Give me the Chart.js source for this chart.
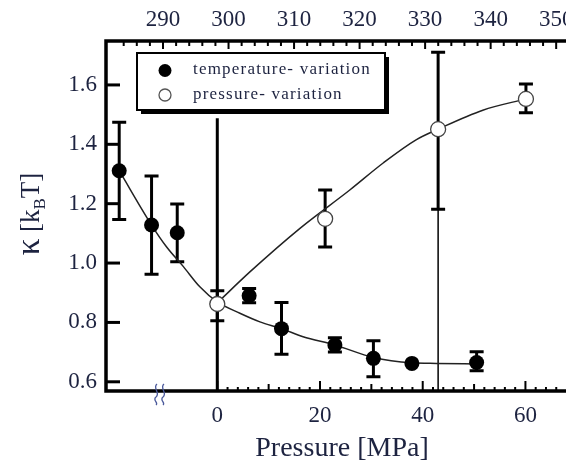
<!DOCTYPE html>
<html>
<head>
<meta charset="utf-8">
<script src="https://cdn.jsdelivr.net/npm/chart.js@4.4.1/dist/chart.umd.min.js"></script>
<style>
  html, body { margin: 0; padding: 0; background: #fff; }
  #wrap { width: 566px; height: 461px; }
</style>
</head>
<body>
<div id="wrap"><canvas id="kappa"></canvas></div>
<script>
// bending rigidity, temperature series (placed on the pressure scale)
const tempP     = [-19.1, -12.8, -7.8, 0, 6.2, 12.5, 22.9, 30.4, 37.9, 50.5];
const tempKappa = [1.311, 1.128, 1.102, 0.862, 0.890, 0.779, 0.724, 0.679, 0.662, 0.665];
const tempLo    = [1.147, 0.962, 1.004, 0.806, 0.866, 0.693, 0.700, 0.617, null, 0.637];
const tempHi    = [1.474, 1.293, 1.199, 0.907, 0.914, 0.867, 0.748, 0.738, null, 0.701];

// pressure series
const presP     = [0, 21.0, 43.0, 60.1];
const presKappa = [0.862, 1.149, 1.451, 1.553];
const presLo    = [0.50, 1.054, 1.181, 1.506];
const presHi    = [1.488, 1.246, 1.710, 1.603];
const presCaps  = [false, true, true, true];
const presTail  = [false, false, true, false];

// guide-to-the-eye curves
const tempFitP = [-19.1, -12.8, -9.9, -6.6, -3.4, 0, 4.4, 8.3, 12.5, 16.7, 22.9, 30.4, 37.9, 42.7, 50.5];
const tempFitK = [1.311, 1.128, 1.055, 0.988, 0.920, 0.869, 0.831, 0.802, 0.779, 0.752, 0.724, 0.682, 0.664, 0.662, 0.660];
const presFitP = [0, 6.4, 16.1, 25.8, 32.3, 38.7, 43.0, 51.7, 60.1];
const presFitK = [0.866, 0.971, 1.117, 1.246, 1.337, 1.415, 1.451, 1.515, 1.553];

// axes
const pressureTicks = [0, 20, 40, 60];
const tempTicks = [290, 300, 310, 320, 330, 340, 350];
const kappaTicks = [0.6, 0.8, 1.0, 1.2, 1.4, 1.6];

const serif = '"Liberation Serif", "Times New Roman", serif';
const ink = '#1d2340';

const pairs = (xs, ys) => xs.map((v, i) => ({ x: v, y: ys[i] }));

function bar(ctx, area, px, y1, y2, caps) {
  const top = Math.max(area.top, Math.min(y1, y2));
  const bot = Math.min(area.bottom, Math.max(y1, y2));
  ctx.beginPath();
  ctx.moveTo(px, top);
  ctx.lineTo(px, bot);
  ctx.stroke();
  if (caps) {
    ctx.beginPath();
    ctx.moveTo(px - 7, y1); ctx.lineTo(px + 7, y1);
    ctx.moveTo(px - 7, y2); ctx.lineTo(px + 7, y2);
    ctx.stroke();
  }
}

const errorBars = {
  id: 'errorBars',
  beforeDatasetsDraw(chart) {
    const { ctx, chartArea: a, scales: { x, y } } = chart;
    ctx.save();
    ctx.strokeStyle = '#000';
    ctx.lineWidth = 3;
    tempP.forEach((p, i) => {
      if (tempLo[i] == null) return;
      bar(ctx, a, x.getPixelForValue(p), y.getPixelForValue(tempHi[i]), y.getPixelForValue(tempLo[i]), true);
    });
    presP.forEach((p, i) => {
      const px = x.getPixelForValue(p);
      ctx.lineWidth = 3;
      bar(ctx, a, px, y.getPixelForValue(presHi[i]), y.getPixelForValue(presLo[i]), presCaps[i]);
      if (presTail[i]) {
        ctx.lineWidth = 1.5;
        ctx.beginPath();
        ctx.moveTo(px, y.getPixelForValue(presLo[i]));
        ctx.lineTo(px, a.bottom);
        ctx.stroke();
      }
    });
    ctx.restore();
  }
};

const frame = {
  id: 'frame',
  afterDraw(chart) {
    const { ctx, chartArea: a, scales: { x, x2, y } } = chart;
    ctx.save();
    ctx.strokeStyle = '#000';
    ctx.lineJoin = 'miter';

    // open box: top, left and bottom only
    ctx.lineWidth = 3.5;
    ctx.beginPath();
    ctx.moveTo(a.right + 2, a.top);
    ctx.lineTo(a.left, a.top);
    ctx.lineTo(a.left, a.bottom);
    ctx.lineTo(a.right + 2, a.bottom);
    ctx.stroke();

    // inward ticks
    ctx.lineWidth = 3;
    kappaTicks.forEach(v => {
      const py = y.getPixelForValue(v);
      ctx.beginPath(); ctx.moveTo(a.left, py); ctx.lineTo(a.left + 14, py); ctx.stroke();
    });
    ctx.lineWidth = 2;
    for (let p = 0; p <= x.max; p += 2) {
      const px = x.getPixelForValue(p);
      const len = p % 20 === 0 ? 10 : p % 10 === 0 ? 7 : 4;
      ctx.beginPath(); ctx.moveTo(px, a.bottom); ctx.lineTo(px, a.bottom - len); ctx.stroke();
    }
    for (let t = 284; t <= x2.max; t += 2) {
      const px = x2.getPixelForValue(t);
      const len = t % 10 === 0 ? 8 : 5;
      ctx.beginPath(); ctx.moveTo(px, a.top); ctx.lineTo(px, a.top + len); ctx.stroke();
    }

    // axis break below the temperature-only region
    ctx.strokeStyle = '#4b5a9c';
    ctx.lineWidth = 1.3;
    [156, 163].forEach(bx => {
      ctx.beginPath();
      ctx.moveTo(bx + 1, 384);
      ctx.bezierCurveTo(bx - 4, 388, bx + 5, 393, bx, 397);
      ctx.bezierCurveTo(bx - 4, 400, bx + 3, 403, bx, 405);
      ctx.stroke();
    });

    // axis titles
    ctx.fillStyle = ink;
    ctx.textBaseline = 'alphabetic';
    ctx.textAlign = 'center';
    ctx.font = '28px ' + serif;
    ctx.fillText('Pressure [MPa]', 342, 456);

    const parts = [
      { t: 'κ', f: '33px ' + serif, dy: 0 },
      { t: ' [k', f: '27px ' + serif, dy: 0 },
      { t: 'B', f: '17px ' + serif, dy: 6 },
      { t: 'T]', f: '27px ' + serif, dy: 0 }
    ];
    ctx.textAlign = 'left';
    let total = 0;
    parts.forEach(s => { ctx.font = s.f; s.w = ctx.measureText(s.t).width; total += s.w; });
    ctx.translate(39, 214);
    ctx.rotate(-Math.PI / 2);
    let cx = -total / 2;
    parts.forEach(s => { ctx.font = s.f; ctx.fillText(s.t, cx, s.dy); cx += s.w; });
    ctx.restore();

    // legend box with drop shadow
    ctx.save();
    const L = 137, T = 53, W = 248, H = 57;
    ctx.fillStyle = '#000';
    ctx.fillRect(L + 4, T + 4, W, H);
    ctx.fillStyle = '#fff';
    ctx.fillRect(L, T, W, H);
    ctx.strokeStyle = '#000';
    ctx.lineWidth = 2;
    ctx.strokeRect(L, T, W, H);

    ctx.beginPath();
    ctx.arc(165, 70.5, 6.5, 0, Math.PI * 2);
    ctx.fillStyle = '#000';
    ctx.fill();
    ctx.beginPath();
    ctx.arc(165, 95, 6, 0, Math.PI * 2);
    ctx.strokeStyle = '#555';
    ctx.lineWidth = 1.3;
    ctx.stroke();

    ctx.fillStyle = ink;
    ctx.font = '17px ' + serif;
    ctx.letterSpacing = '1.2px';
    ctx.textBaseline = 'middle';
    ctx.fillText('temperature- variation', 193, 70);
    ctx.fillText('pressure- variation', 193, 95);
    ctx.restore();
  }
};

const tickFont = { family: serif, size: 23 };

new Chart(document.getElementById('kappa'), {
  data: {
    datasets: [
      {
        type: 'scatter',
        label: 'pressure- variation',
        data: pairs(presP, presKappa),
        pointRadius: 7.5,
        pointBackgroundColor: '#fff',
        pointBorderColor: '#444',
        pointBorderWidth: 1.3,
        order: 0
      },
      {
        type: 'scatter',
        label: 'temperature- variation',
        data: pairs(tempP, tempKappa),
        pointRadius: 7.5,
        pointBackgroundColor: '#000',
        pointBorderColor: '#000',
        pointBorderWidth: 0,
        order: 1
      },
      {
        type: 'line',
        data: pairs(presFitP, presFitK),
        borderColor: '#222',
        borderWidth: 1.5,
        pointRadius: 0,
        cubicInterpolationMode: 'monotone',
        order: 2
      },
      {
        type: 'line',
        data: pairs(tempFitP, tempFitK),
        borderColor: '#222',
        borderWidth: 1.5,
        pointRadius: 0,
        cubicInterpolationMode: 'monotone',
        order: 2
      }
    ]
  },
  options: {
    responsive: true,
    maintainAspectRatio: false,
    animation: false,
    events: [],
    layout: { padding: 0, autoPadding: false },
    plugins: { legend: { display: false }, tooltip: { enabled: false } },
    scales: {
      x: {
        type: 'linear',
        position: 'bottom',
        min: -21.67,
        max: 67.9,
        afterBuildTicks: s => { s.ticks = pressureTicks.map(v => ({ value: v })); },
        afterFit: s => { s.height = 70; s.paddingLeft = 0; s.paddingRight = 0; },
        grid: { display: false, drawTicks: false },
        border: { display: false },
        ticks: { font: tickFont, color: ink, padding: 11, maxRotation: 0, autoSkip: false }
      },
      x2: {
        type: 'linear',
        position: 'top',
        min: 281.3,
        max: 351.5,
        afterBuildTicks: s => { s.ticks = tempTicks.map(v => ({ value: v })); },
        afterFit: s => { s.height = 41; s.paddingLeft = 0; s.paddingRight = 0; },
        grid: { display: false, drawTicks: false },
        border: { display: false },
        ticks: { font: tickFont, color: ink, padding: 7, maxRotation: 0, autoSkip: false }
      },
      y: {
        type: 'linear',
        min: 0.569,
        max: 1.748,
        afterBuildTicks: s => { s.ticks = kappaTicks.map(v => ({ value: v })); },
        afterFit: s => { s.width = 106; s.paddingTop = 0; s.paddingBottom = 0; },
        grid: { display: false, drawTicks: false },
        border: { display: false },
        ticks: { font: tickFont, color: ink, padding: 9, callback: v => v.toFixed(1) }
      }
    }
  },
  plugins: [errorBars, frame]
});
</script>
</body>
</html>
